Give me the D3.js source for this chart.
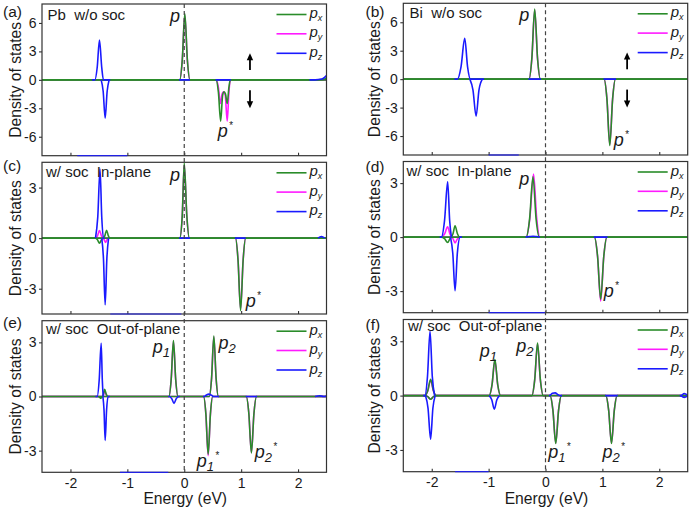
<!DOCTYPE html>
<html><head><meta charset="utf-8">
<script src="https://cdn.jsdelivr.net/npm/d3@7"></script>
<style>
body{margin:0;background:#fff}
svg{display:block}
text{font-family:"Liberation Sans",Arial,Helvetica,sans-serif;fill:#1a1a1a}
</style>
</head><body><svg id="chart" width="693" height="511"></svg>
<script>
// ---------------- DATA ----------------
const energyDomain = [-2.5, 2.5];
const xTickValues = [-2, -1, 0, 1, 2];
const yTicksWide = [-6, -3, 0, 3, 6];
const yTicksNarrow = [-3, 0, 3];
const legendLabels = [["p","x"],["p","y"],["p","z"]];
const axisTitleY = "Density of states";
const axisTitleX = "Energy (eV)";

// [energy, DOS]; pz series are only recorded where visible (null = gap)
// (a) Pb w/o soc
const aPxUp = [[-0.08,0],[-0.035,2.1],[0.01,7.0],[0.055,2.1],[0.10,0],[2.35,0],[2.45,0.05],[2.5,0.2]];
const aPxDn = [[0.56,0],[0.60,-1.3],[0.64,-4.35],[0.675,-1.6],[0.70,-1.25],[0.725,-1.5],[0.755,-2.5],[0.785,-0.8],[0.81,0]];
const aPyUp = [[-0.08,0],[-0.035,2.0],[0.01,6.8],[0.055,2.0],[0.10,0]];
const aPyDn = [[0.56,0],[0.60,-0.8],[0.635,-2.5],[0.665,-1.5],[0.69,-1.25],[0.72,-1.6],[0.755,-4.35],[0.785,-1.3],[0.81,0]];
const aPzUp = [[-1.62,0],[-1.57,0],[-1.53,1.3],[-1.49,4.2],[-1.45,1.3],[-1.42,0],[-1.3,0],null,[-0.09,0],[0.10,0],null,[0.55,0],[0.82,0],null,[2.2,0],[2.3,0],[2.42,0.08],[2.5,0.45]];
const aPzDn = [[-1.46,0],[-1.425,-1.2],[-1.39,-4.05],[-1.355,-1.2],[-1.32,0]];

// (b) Bi w/o soc
const bPxUp = [[-0.29,0],[-0.24,2.2],[-0.19,7.4],[-0.14,2.2],[-0.09,0]];
const bPxDn = [[1.03,0],[1.08,-2.1],[1.13,-7.0],[1.18,-2.1],[1.23,0]];
const bPyUp = [[-0.29,0],[-0.24,2.15],[-0.19,7.3],[-0.14,2.15],[-0.09,0]];
const bPyDn = [[1.03,0],[1.08,-2.05],[1.13,-6.9],[1.18,-2.05],[1.23,0]];
const bPzUp = [[-1.6,0],[-1.55,0],[-1.485,1.3],[-1.42,4.3],[-1.37,1.3],[-1.32,0],[-1.08,0],null,[-0.30,0],[-0.08,0],null,[1.02,0],[1.24,0]];
const bPzDn = [[-1.33,0],[-1.275,-1.15],[-1.22,-3.9],[-1.17,-1.15],[-1.11,0]];

// (c) Pb w/ soc In-plane
const cPxUp = [[-1.42,0],[-1.395,0.15],[-1.365,0.47],[-1.335,0.15],[-1.31,0],[-0.08,0],[-0.035,1.35],[0.0,4.45],[0.045,1.35],[0.09,0]];
const cPxDn = [[-1.56,0],[-1.525,-0.1],[-1.49,-0.3],[-1.455,-0.1],[-1.42,0],[0.9,0],[0.945,-1.3],[0.99,-4.3],[1.035,-1.3],[1.08,0]];
const cPyUp = [[-1.56,0],[-1.525,0.14],[-1.49,0.45],[-1.455,0.14],[-1.42,0],[-0.08,0],[-0.035,1.3],[0.0,4.3],[0.045,1.3],[0.09,0]];
const cPyDn = [[-1.43,0],[-1.41,-0.08],[-1.385,-0.25],[-1.355,-0.08],[-1.33,0],[0.9,0],[0.945,-1.27],[0.99,-4.2],[1.035,-1.27],[1.08,0]];
const cPzUp = [[-1.56,0],[-1.52,1.25],[-1.48,4.1],[-1.45,1.25],[-1.42,0],[-1.40,0],null,[-0.09,0],[0.10,0],null,[0.89,0],[1.08,0],null,[2.35,0],[2.41,0.1],[2.47,0]];
const cPzDn = [[-1.45,0],[-1.42,-1.2],[-1.39,-3.95],[-1.36,-1.2],[-1.33,0]];

// (d) Bi w/ soc In-plane
const dPxUp = [[-1.66,0],[-1.625,0.2],[-1.59,0.63],[-1.55,0.2],[-1.51,0],[-0.34,0],[-0.28,1.0],[-0.22,3.35],[-0.165,1.0],[-0.11,0]];
const dPxDn = [[-1.83,0],[-1.775,-0.09],[-1.72,-0.3],[-1.68,-0.09],[-1.65,0],[0.86,0],[0.915,-1.05],[0.97,-3.45],[1.025,-1.05],[1.08,0]];
const dPyUp = [[-1.83,0],[-1.775,0.17],[-1.72,0.57],[-1.68,0.17],[-1.65,0],[-0.34,0],[-0.275,1.05],[-0.21,3.5],[-0.155,1.05],[-0.10,0]];
const dPyDn = [[-1.66,0],[-1.625,-0.1],[-1.59,-0.32],[-1.55,-0.1],[-1.51,0],[0.86,0],[0.915,-1.07],[0.97,-3.55],[1.025,-1.07],[1.08,0]];
const dPzUp = [[-1.86,0],[-1.83,0],[-1.775,0.92],[-1.72,3.07],[-1.685,0.92],[-1.655,0],null,[-0.35,0],[-0.28,0.03],[-0.22,0.05],[-0.16,0.03],[-0.10,0],null,[0.85,0],[1.09,0]];
const dPzDn = [[-1.67,0],[-1.63,-0.9],[-1.59,-2.98],[-1.55,-0.9],[-1.5,0],[-1.47,0]];

// (e) Pb w/ soc Out-of-plane
const ePxUp = [[-1.44,0],[-1.42,0.12],[-1.40,0.4],[-1.37,0.12],[-1.34,0],[-0.27,0],[-0.23,0.93],[-0.19,3.1],[-0.15,0.93],[-0.11,0],[0.44,0],[0.48,1.0],[0.52,3.35],[0.56,1.0],[0.60,0]];
const ePxDn = [[-1.52,0],[-1.49,-0.03],[-1.465,-0.1],[-1.44,0],[0.34,0],[0.38,-0.96],[0.42,-3.2],[0.46,-0.96],[0.50,0],[1.09,0],[1.135,-0.94],[1.18,-3.13],[1.225,-0.94],[1.27,0]];
const ePyUp = [[-1.44,0],[-1.42,0.09],[-1.40,0.3],[-1.37,0.09],[-1.34,0],[-0.27,0],[-0.23,0.92],[-0.19,3.05],[-0.15,0.92],[-0.11,0],[0.44,0],[0.48,0.99],[0.52,3.3],[0.56,0.99],[0.60,0]];
const ePyDn = [[0.34,0],[0.38,-0.98],[0.42,-3.28],[0.46,-0.98],[0.50,0],[1.09,0],[1.135,-0.93],[1.18,-3.1],[1.225,-0.93],[1.27,0]];
const ePzUp = [[-1.56,0],[-1.53,0],[-1.495,0.9],[-1.46,2.95],[-1.44,0.9],[-1.425,0],null,[0.33,0],[0.35,0],[0.39,0.08],[0.43,0.13],[0.48,0.07],[0.52,0],[0.61,0],null,[1.08,0],[1.28,0],null,[2.3,0],[2.38,0.04],[2.45,0],[2.5,0.03]];
const ePzDn = [[-1.43,0],[-1.41,-0.75],[-1.39,-2.43],[-1.365,-0.75],[-1.34,0],[-1.31,0],null,[-0.28,0],[-0.26,0],[-0.22,-0.12],[-0.18,-0.38],[-0.14,-0.12],[-0.10,0],[-0.08,0]];

// (f) Bi w/ soc Out-of-plane
const fPxUp = [[-2.12,0],[-2.07,0.27],[-2.02,0.9],[-1.97,0.27],[-1.92,0],[-0.99,0],[-0.94,0.6],[-0.89,2.0],[-0.84,0.6],[-0.79,0],[-0.24,0],[-0.19,0.87],[-0.14,2.9],[-0.09,0.87],[-0.04,0]];
const fPxDn = [[-2.12,0],[-2.07,-0.06],[-2.02,-0.2],[-1.97,-0.06],[-1.92,0],[0.08,0],[0.13,-0.8],[0.18,-2.64],[0.23,-0.8],[0.28,0],[1.06,0],[1.11,-0.8],[1.16,-2.64],[1.21,-0.8],[1.26,0]];
const fPyUp = [[-2.12,0],[-2.07,0.25],[-2.02,0.85],[-1.97,0.25],[-1.92,0],[-0.99,0],[-0.94,0.58],[-0.89,1.95],[-0.84,0.58],[-0.79,0],[-0.24,0],[-0.19,0.85],[-0.14,2.85],[-0.09,0.85],[-0.04,0]];
const fPyDn = [[-2.12,0],[-2.07,-0.06],[-2.02,-0.2],[-1.97,-0.06],[-1.92,0],[0.08,0],[0.13,-0.79],[0.18,-2.62],[0.23,-0.79],[0.28,0],[1.06,0],[1.11,-0.79],[1.16,-2.62],[1.21,-0.79],[1.26,0]];
const fPzUp = [[-2.15,0],[-2.12,0],[-2.075,1.05],[-2.03,3.55],[-1.99,1.05],[-1.95,0],null,[0.06,0],[0.07,0],[0.12,0.13],[0.17,0.15],[0.22,0.05],[0.26,0],[0.29,0],null,[1.05,0],[1.27,0],null,[2.36,0],[2.38,0],[2.44,0.12],[2.5,0.02]];
const fPzDn = [[-2.11,0],[-2.065,-0.7],[-2.02,-2.4],[-1.98,-0.7],[-1.94,0],null,[-0.99,0],[-0.945,-0.23],[-0.9,-0.75],[-0.855,-0.23],[-0.81,0],null,[2.38,0],[2.44,-0.1],[2.5,-0.02]];

// faint blue segments lying on the lower frame edge: [from, to] energy
const edgeA = [-1.88, -1.0], edgeB = [-1.0, -0.47], edgeC = [-1.3, -0.05];
const edgeD = [-1.0, 0.0], edgeE = [-1.13, -0.28], edgeF = [-1.59, -1.0];

// ---------------- LAYOUT / STYLE ----------------
const colors = {px:"#2a8c2a", py:"#ff1aff", pz:"#1a1aff"};
const cols = [{x0:42, x1:326.5}, {x0:403.3, x1:687.7}];
const panels = [
  {tag:"(a)", col:0, y0:4, y1:155.7, yDom:[-8,8], yTicks:yTicksWide, title:"Pb  w/o soc",
   tagPos:[3,16.5], titlePos:[47.5,20], bottom:false, arrows:[1.155],
   s:{pxUp:aPxUp,pxDn:aPxDn,pyUp:aPyUp,pyDn:aPyDn,pzUp:aPzUp,pzDn:aPzDn}, edge:edgeA,
   ann:[{e:-0.25,v:6.13,t:"p"},{e:0.59,v:-6.0,t:"p",sup:"*"}]},
  {tag:"(b)", col:1, y0:3.3, y1:155, yDom:[-8,8], yTicks:yTicksWide, title:"Bi  w/o soc",
   tagPos:[365.5,16.5], titlePos:[409.5,17.5], bottom:false, arrows:[1.435],
   s:{pxUp:bPxUp,pxDn:bPxDn,pyUp:bPyUp,pyDn:bPyDn,pzUp:bPzUp,pzDn:bPzDn}, edge:edgeB,
   ann:[{e:-0.46,v:6.17,t:"p"},{e:1.2,v:-7.1,t:"p",sup:"*"}]},
  {tag:"(c)", col:0, y0:162.3, y1:314, yDom:[-4.5,4.5], yTicks:yTicksNarrow, title:"w/ soc  In-plane",
   tagPos:[3,171], titlePos:[46,176.5], bottom:false, arrows:[],
   s:{pxUp:cPxUp,pxDn:cPxDn,pyUp:cPyUp,pyDn:cPyDn,pzUp:cPzUp,pzDn:cPzDn}, edge:edgeC,
   ann:[{e:-0.25,v:3.41,t:"p"},{e:1.08,v:-4.07,t:"p",sup:"*"}]},
  {tag:"(d)", col:1, y0:161.5, y1:312.7, yDom:[-4.2,4.2], yTicks:yTicksNarrow, title:"w/ soc  In-plane",
   tagPos:[365.5,172], titlePos:[406.5,176], bottom:false, arrows:[],
   s:{pxUp:dPxUp,pxDn:dPxDn,pyUp:dPyUp,pyDn:dPyDn,pzUp:dPzUp,pzDn:dPzDn}, edge:edgeD,
   ann:[{e:-0.46,v:2.9,t:"p"},{e:1.025,v:-3.34,t:"p",sup:"*"}]},
  {tag:"(e)", col:0, y0:320.7, y1:472.3, yDom:[-4.2,4.2], yTicks:yTicksNarrow, title:"w/ soc  Out-of-plane",
   tagPos:[3,327.5], titlePos:[46,334], bottom:true, arrows:[],
   s:{pxUp:ePxUp,pxDn:ePxDn,pyUp:ePyUp,pyDn:ePyDn,pzUp:ePzUp,pzDn:ePzDn}, edge:edgeE,
   ann:[{e:-0.555,v:2.39,t:"p",sub:"1"},{e:0.6,v:2.61,t:"p",sub:"2"},
        {e:0.22,v:-3.89,t:"p",sub:"1",sup:"*"},{e:1.24,v:-3.42,t:"p",sub:"2",sup:"*"}]},
  {tag:"(f)", col:1, y0:319.5, y1:471.7, yDom:[-4.2,4.2], yTicks:yTicksNarrow, title:"w/ soc  Out-of-plane",
   tagPos:[365.5,330], titlePos:[408,331], bottom:true, arrows:[],
   s:{pxUp:fPxUp,pxDn:fPxDn,pyUp:fPyUp,pyDn:fPyDn,pzUp:fPzUp,pzDn:fPzDn}, edge:edgeF,
   ann:[{e:-1.155,v:2.15,t:"p",sub:"1"},{e:-0.515,v:2.42,t:"p",sub:"2"},
        {e:0.05,v:-3.46,t:"p",sub:"1",sup:"*"},{e:1.0,v:-3.46,t:"p",sub:"2",sup:"*"}]}
];

// ---------------- DRAW ----------------
const svg = d3.select("#chart");
// px / py span the full energy window; pz drawn on top where recorded
const drawOrder = [["pyDn","py",true],["pyUp","py",true],["pxDn","px",true],["pxUp","px",true],["pzDn","pz",false],["pzUp","pz",false]];

function full(arr){
  const pts = arr.slice();
  if (pts[0][0] > energyDomain[0]) pts.unshift([energyDomain[0],0]);
  if (pts[pts.length-1][0] < energyDomain[1]) pts.push([energyDomain[1],0]);
  return pts;
}

const xScales = cols.map(c => d3.scaleLinear().domain(energyDomain).range([c.x0, c.x1]));

panels.forEach((p, i) => {
  const col = cols[p.col];
  const x = xScales[p.col];
  const y = d3.scaleLinear().domain(p.yDom).range([p.y1, p.y0]);
  const g = svg.append("g");
  const clipId = "clip" + i;
  svg.append("clipPath").attr("id", clipId).append("rect")
    .attr("x", col.x0).attr("y", p.y0).attr("width", col.x1 - col.x0).attr("height", p.y1 - p.y0);

  // curves
  const line = d3.line().defined(d => d !== null).x(d => x(d[0])).y(d => y(d[1])).curve(d3.curveMonotoneX);
  const cg = g.append("g").attr("clip-path", `url(#${clipId})`);
  drawOrder.forEach(([k, c, extend]) => {
    cg.append("path").attr("d", line(extend ? full(p.s[k]) : p.s[k]))
      .attr("fill", "none").attr("stroke", colors[c]).attr("stroke-width", 1.6)
      .attr("stroke-linejoin", "round");
  });

  // y axis
  const ya = g.append("g").attr("transform", `translate(${col.x0},0)`)
    .call(d3.axisLeft(y).tickValues(p.yTicks).tickSize(3).tickPadding(2.5).tickFormat(d => String(d)));
  ya.select(".domain").remove();
  ya.selectAll("line").attr("stroke", "#333").attr("stroke-width", 1.1);
  ya.selectAll("text").attr("font-size", 14).attr("fill", "#1a1a1a")
    .style("font-family", "'Liberation Sans',Arial,sans-serif");

  // x axis (inward ticks)
  const xa = g.append("g").attr("transform", `translate(0,${p.y1})`)
    .call(d3.axisBottom(x).tickValues(xTickValues).tickSizeInner(-3).tickSizeOuter(0).tickPadding(5.8)
      .tickFormat(d => p.bottom ? String(d) : ""));
  xa.select(".domain").remove();
  xa.selectAll("line").attr("stroke", "#333").attr("stroke-width", 1.1);
  xa.selectAll("text").attr("font-size", 14).attr("fill", "#1a1a1a")
    .style("font-family", "'Liberation Sans',Arial,sans-serif");

  // frame
  g.append("rect").attr("x", col.x0).attr("y", p.y0)
    .attr("width", col.x1 - col.x0).attr("height", p.y1 - p.y0)
    .attr("fill", "none").attr("stroke", "#333").attr("stroke-width", 1.2);

  // edge artifact (over the frame)
  g.append("line").attr("x1", x(p.edge[0])).attr("x2", x(p.edge[1]))
    .attr("y1", y(p.yDom[0])).attr("y2", y(p.yDom[0]))
    .attr("stroke", colors.pz).attr("stroke-width", 1.2).attr("opacity", 0.85);

  // y title
  g.append("text").attr("transform", `translate(${col.x0 - (p.col === 0 ? 21 : 23.3)},${(p.y0 + p.y1) / 2}) rotate(-90)`)
    .attr("text-anchor", "middle").attr("font-size", 15.7).text(axisTitleY);

  // x title
  if (p.bottom) {
    g.append("text").attr("x", x(0) + 1).attr("y", p.y1 + 32)
      .attr("text-anchor", "middle").attr("font-size", 15.7).text(axisTitleX);
  }

  // tag and title
  g.append("text").attr("x", p.tagPos[0]).attr("y", p.tagPos[1]).attr("font-size", 15.5).text(p.tag);
  g.append("text").attr("x", p.titlePos[0]).attr("y", p.titlePos[1]).attr("font-size", 15)
    .style("white-space", "pre").attr("xml:space", "preserve").text(p.title);

  // legend
  const legKeys = ["px", "py", "pz"];
  const legOff = [10.5, 29.8, 49.3];
  legKeys.forEach((k, j) => {
    const ly = p.y0 + legOff[j];
    g.append("line").attr("x1", col.x1 - 50).attr("x2", col.x1 - 20).attr("y1", ly).attr("y2", ly)
      .attr("stroke", colors[k]).attr("stroke-width", 1.6);
    const t = g.append("text").attr("x", col.x1 - 17).attr("y", ly + 3.5).attr("font-size", 15)
      .attr("font-style", "italic");
    t.append("tspan").text(legendLabels[j][0]);
    t.append("tspan").attr("font-size", 9).attr("dy", 3).text(legendLabels[j][1]);
  });

  // spin arrows
  p.arrows.forEach(ae => {
    const ax = x(ae);
    const up = [y(1.04), y(2.8)], dn = [y(-1.1), y(-3.0)];
    [[up, -1], [dn, 1]].forEach(([yy, dir]) => {
      g.append("line").attr("x1", ax).attr("x2", ax).attr("y1", yy[0]).attr("y2", yy[1] - dir * 5)
        .attr("stroke", "#000").attr("stroke-width", 1.8);
      const tip = yy[1];
      g.append("path").attr("d", `M${ax},${tip} L${ax - 3.2},${tip - dir * 7} L${ax + 3.2},${tip - dir * 7} Z`)
        .attr("fill", "#000");
    });
  });

  // peak annotations
  p.ann.forEach(a => {
    const t = g.append("text").attr("x", x(a.e)).attr("y", y(a.v)).attr("font-size", 18)
      .attr("font-style", "italic");
    t.append("tspan").text(a.t);
    let dyAcc = 0;
    if (a.sub) { t.append("tspan").attr("font-size", 13).attr("dy", 4).text(a.sub); dyAcc = 4; }
    if (a.sup) { t.append("tspan").attr("font-size", 10).attr("dy", -8 - dyAcc).attr("dx", 1).text(a.sup); }
  });
});

// dashed Fermi level line for each column
[0, 1].forEach(ci => {
  const ps = panels.filter(p => p.col === ci);
  const x = xScales[ci];
  svg.append("line").attr("x1", x(0)).attr("x2", x(0))
    .attr("y1", ps[0].y0).attr("y2", ps[ps.length - 1].y1)
    .attr("stroke", "#444").attr("stroke-width", 1.2).attr("stroke-dasharray", "4,3");
});
</script>
</body></html>
